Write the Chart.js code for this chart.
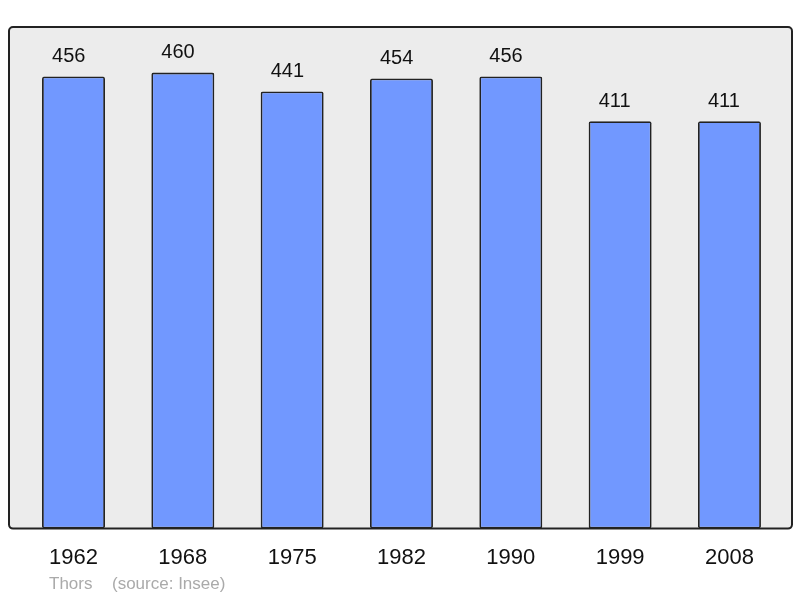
<!DOCTYPE html>
<html>
<head>
<meta charset="utf-8">
<script src="https://cdn.jsdelivr.net/npm/chart.js@4/dist/chart.umd.min.js"></script>
<style>
  html, body { margin: 0; padding: 0; background: #fff; }
  #wrap { width: 800px; height: 598px; position: relative; }
</style>
</head>
<body>
<div id="wrap"><canvas id="chart"></canvas></div>
<script>
// Population data (Thors, source: Insee)
const years = ['1962', '1968', '1975', '1982', '1990', '1999', '2008'];
const population = [456, 460, 441, 454, 456, 411, 411];
const footerText = ['Thors', '(source: Insee)'];

const FONT = '"Liberation Sans", Arial, sans-serif';

// frame + grey background behind the plot area
const framePlugin = {
  id: 'frame',
  beforeDraw(chart) {
    const { ctx, chartArea: a } = chart;
    ctx.save();
    ctx.beginPath();
    ctx.roundRect(a.left, a.top, a.right - a.left, a.bottom - a.top, 4);
    ctx.fillStyle = '#ececec';
    ctx.fill();
    ctx.restore();
  },
  afterDatasetsDraw(chart) {
    const { ctx, chartArea: a } = chart;
    ctx.save();
    ctx.beginPath();
    ctx.roundRect(a.left, a.top, a.right - a.left, a.bottom - a.top, 4);
    ctx.lineWidth = 2;
    ctx.strokeStyle = '#222';
    ctx.stroke();
    ctx.restore();
  }
};

// numbers above each bar (left-aligned a bit left of the bar centre, like the original)
const valueLabels = {
  id: 'valueLabels',
  afterDatasetsDraw(chart) {
    const { ctx } = chart;
    const meta = chart.getDatasetMeta(0);
    ctx.save();
    ctx.font = '20px ' + FONT;
    ctx.fillStyle = '#111';
    ctx.textAlign = 'left';
    ctx.textBaseline = 'alphabetic';
    meta.data.forEach((bar, i) => {
      ctx.fillText(population[i], bar.x - 21.5, bar.y - 14.5);
    });
    ctx.restore();
  }
};

// commune name + source under the axis
const footer = {
  id: 'footer',
  afterDraw(chart) {
    const { ctx } = chart;
    ctx.save();
    ctx.font = '17px ' + FONT;
    ctx.fillStyle = '#aaa';
    ctx.textBaseline = 'middle';
    ctx.fillText(footerText[0], 49, 584);
    ctx.fillText(footerText[1], 112, 584);
    ctx.restore();
  }
};

new Chart(document.getElementById('chart'), {
  type: 'bar',
  data: {
    datasets: [{
      data: population.map((v, i) => ({ x: i, y: v })),
      backgroundColor: '#7198ff',
      borderColor: '#222',
      borderWidth: 1.8,
      borderRadius: 2,
      borderSkipped: false,
      barPercentage: 0.576,
      categoryPercentage: 1,
    }],
  },
  options: {
    responsive: true,
    maintainAspectRatio: false,
    animation: false,
    layout: { padding: { left: 9, right: 8, top: 27, bottom: 11 } },
    plugins: {
      legend: { display: false },
      tooltip: { enabled: false },
    },
    scales: {
      x: {
        type: 'linear',
        offset: false,
        min: -0.59,
        max: 6.572,
        afterBuildTicks: axis => {
          axis.ticks = years.map((y, i) => ({ value: i }));
        },
        grid: { display: false, drawTicks: false, offset: false },
        border: { display: false },
        ticks: {
          padding: 16,
          color: '#111',
          font: { family: FONT, size: 22 },
          callback: v => years[v],
          maxRotation: 0,
          autoSkip: false,
        },
      },
      y: {
        display: false,
        min: 0,
        max: 506,
      },
    },
  },
  plugins: [framePlugin, valueLabels, footer],
});
</script>
</body>
</html>
